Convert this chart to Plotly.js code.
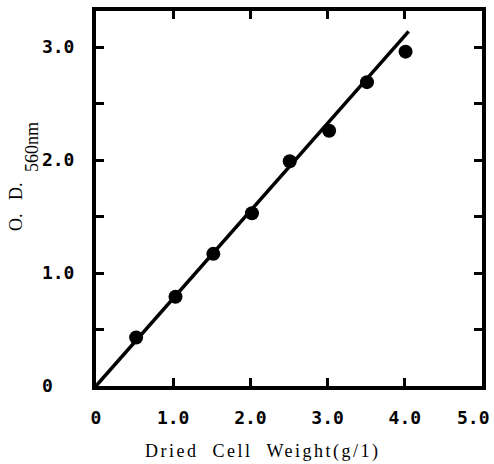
<!DOCTYPE html>
<html>
<head>
<meta charset="utf-8">
<script src="https://cdn.plot.ly/plotly-3.0.1.min.js"></script>
<style>
html,body{margin:0;padding:0;background:#fff;}
#chart{width:494px;height:464px;}
.annotation[data-index="0"] text{letter-spacing:2.5px;}
</style>
</head>
<body>
<div id="chart"></div>
<script>
// Data
const cellWeight = [0.52, 1.03, 1.52, 2.02, 2.51, 3.02, 3.51, 4.01];
const odValues   = [0.43, 0.79, 1.17, 1.53, 1.99, 2.26, 2.69, 2.96];
const fitX = [0, 4.05];
const fitY = [0, 3.14];
const xTickVals = [0, 1, 2, 3, 4, 5];
const xTickText = ["0", "1.0", "2.0", "3.0", "4.0", ""];
const xLastTick = 5;
const xLastTickText = "5.0";
const yTickVals = [0, 0.5, 1.0, 1.5, 2.0, 2.5, 3.0];
const yTickText = ["0\u00a0\u00a0", "", "1.0", "", "2.0", "", "3.0"];
const xTitle = "Dried\u00a0\u00a0Cell\u00a0\u00a0Weight(g/1)";
const yTitleMain = "O.\u00a0\u00a0\u00a0D.";
const yTitleSub = "560nm";

const tickFont = {family: "DejaVu Sans Mono", size: 18, color: "#000", weight: "bold"};
const titleFont = {family: "Liberation Serif", size: 18, color: "#000"};

const traces = [
  {x: fitX, y: fitY, mode: "lines", line: {color: "#000", width: 3.5}, hoverinfo: "skip", cliponaxis: false},
  {x: cellWeight, y: odValues, mode: "markers", marker: {color: "#000", size: 14}, cliponaxis: false}
];

const layout = {
  width: 494, height: 464,
  margin: {l: 96, r: 12, t: 11, b: 78},
  paper_bgcolor: "#fff", plot_bgcolor: "#fff",
  showlegend: false,
  xaxis: {
    range: [0, 5], tickvals: xTickVals, ticktext: xTickText,
    ticks: "inside", ticklen: 8, tickwidth: 3, tickcolor: "#000",
    showline: true, linewidth: 4, linecolor: "#000", mirror: "ticks",
    showgrid: false, zeroline: false, tickfont: tickFont,
    ticklabelstandoff: 12, ticklabeloverflow: "allow"
  },
  yaxis: {
    range: [0, 3.32], tickvals: yTickVals, ticktext: yTickText,
    ticks: "inside", ticklen: 8, tickwidth: 3, tickcolor: "#000",
    showline: true, linewidth: 4, linecolor: "#000", mirror: "ticks",
    showgrid: false, zeroline: false, tickfont: tickFont,
    ticklabelstandoff: 14, ticklabeloverflow: "allow"
  },
  annotations: [
    {text: xTitle, xref: "paper", yref: "paper", x: (263 - 96) / 386, y: -(451 - 386) / 375,
     xanchor: "center", yanchor: "middle", showarrow: false, font: titleFont},
    {text: yTitleMain, xref: "paper", yref: "paper", x: -(96 - 16) / 386, y: (386 - 207) / 375,
     xanchor: "center", yanchor: "middle", showarrow: false, textangle: -90, font: titleFont},
    {text: yTitleSub, xref: "paper", yref: "paper", x: -(96 - 32) / 386, y: (386 - 147) / 375,
     xanchor: "center", yanchor: "middle", showarrow: false, textangle: -90, font: titleFont},
    {text: xLastTickText, xref: "x", yref: "paper", x: xLastTick, y: -(417 - 386) / 375,
     xanchor: "right", yanchor: "middle", xshift: 10, showarrow: false, font: tickFont}
  ]
};

Plotly.newPlot("chart", traces, layout, {displayModeBar: false, staticPlot: true});
</script>
</body>
</html>
